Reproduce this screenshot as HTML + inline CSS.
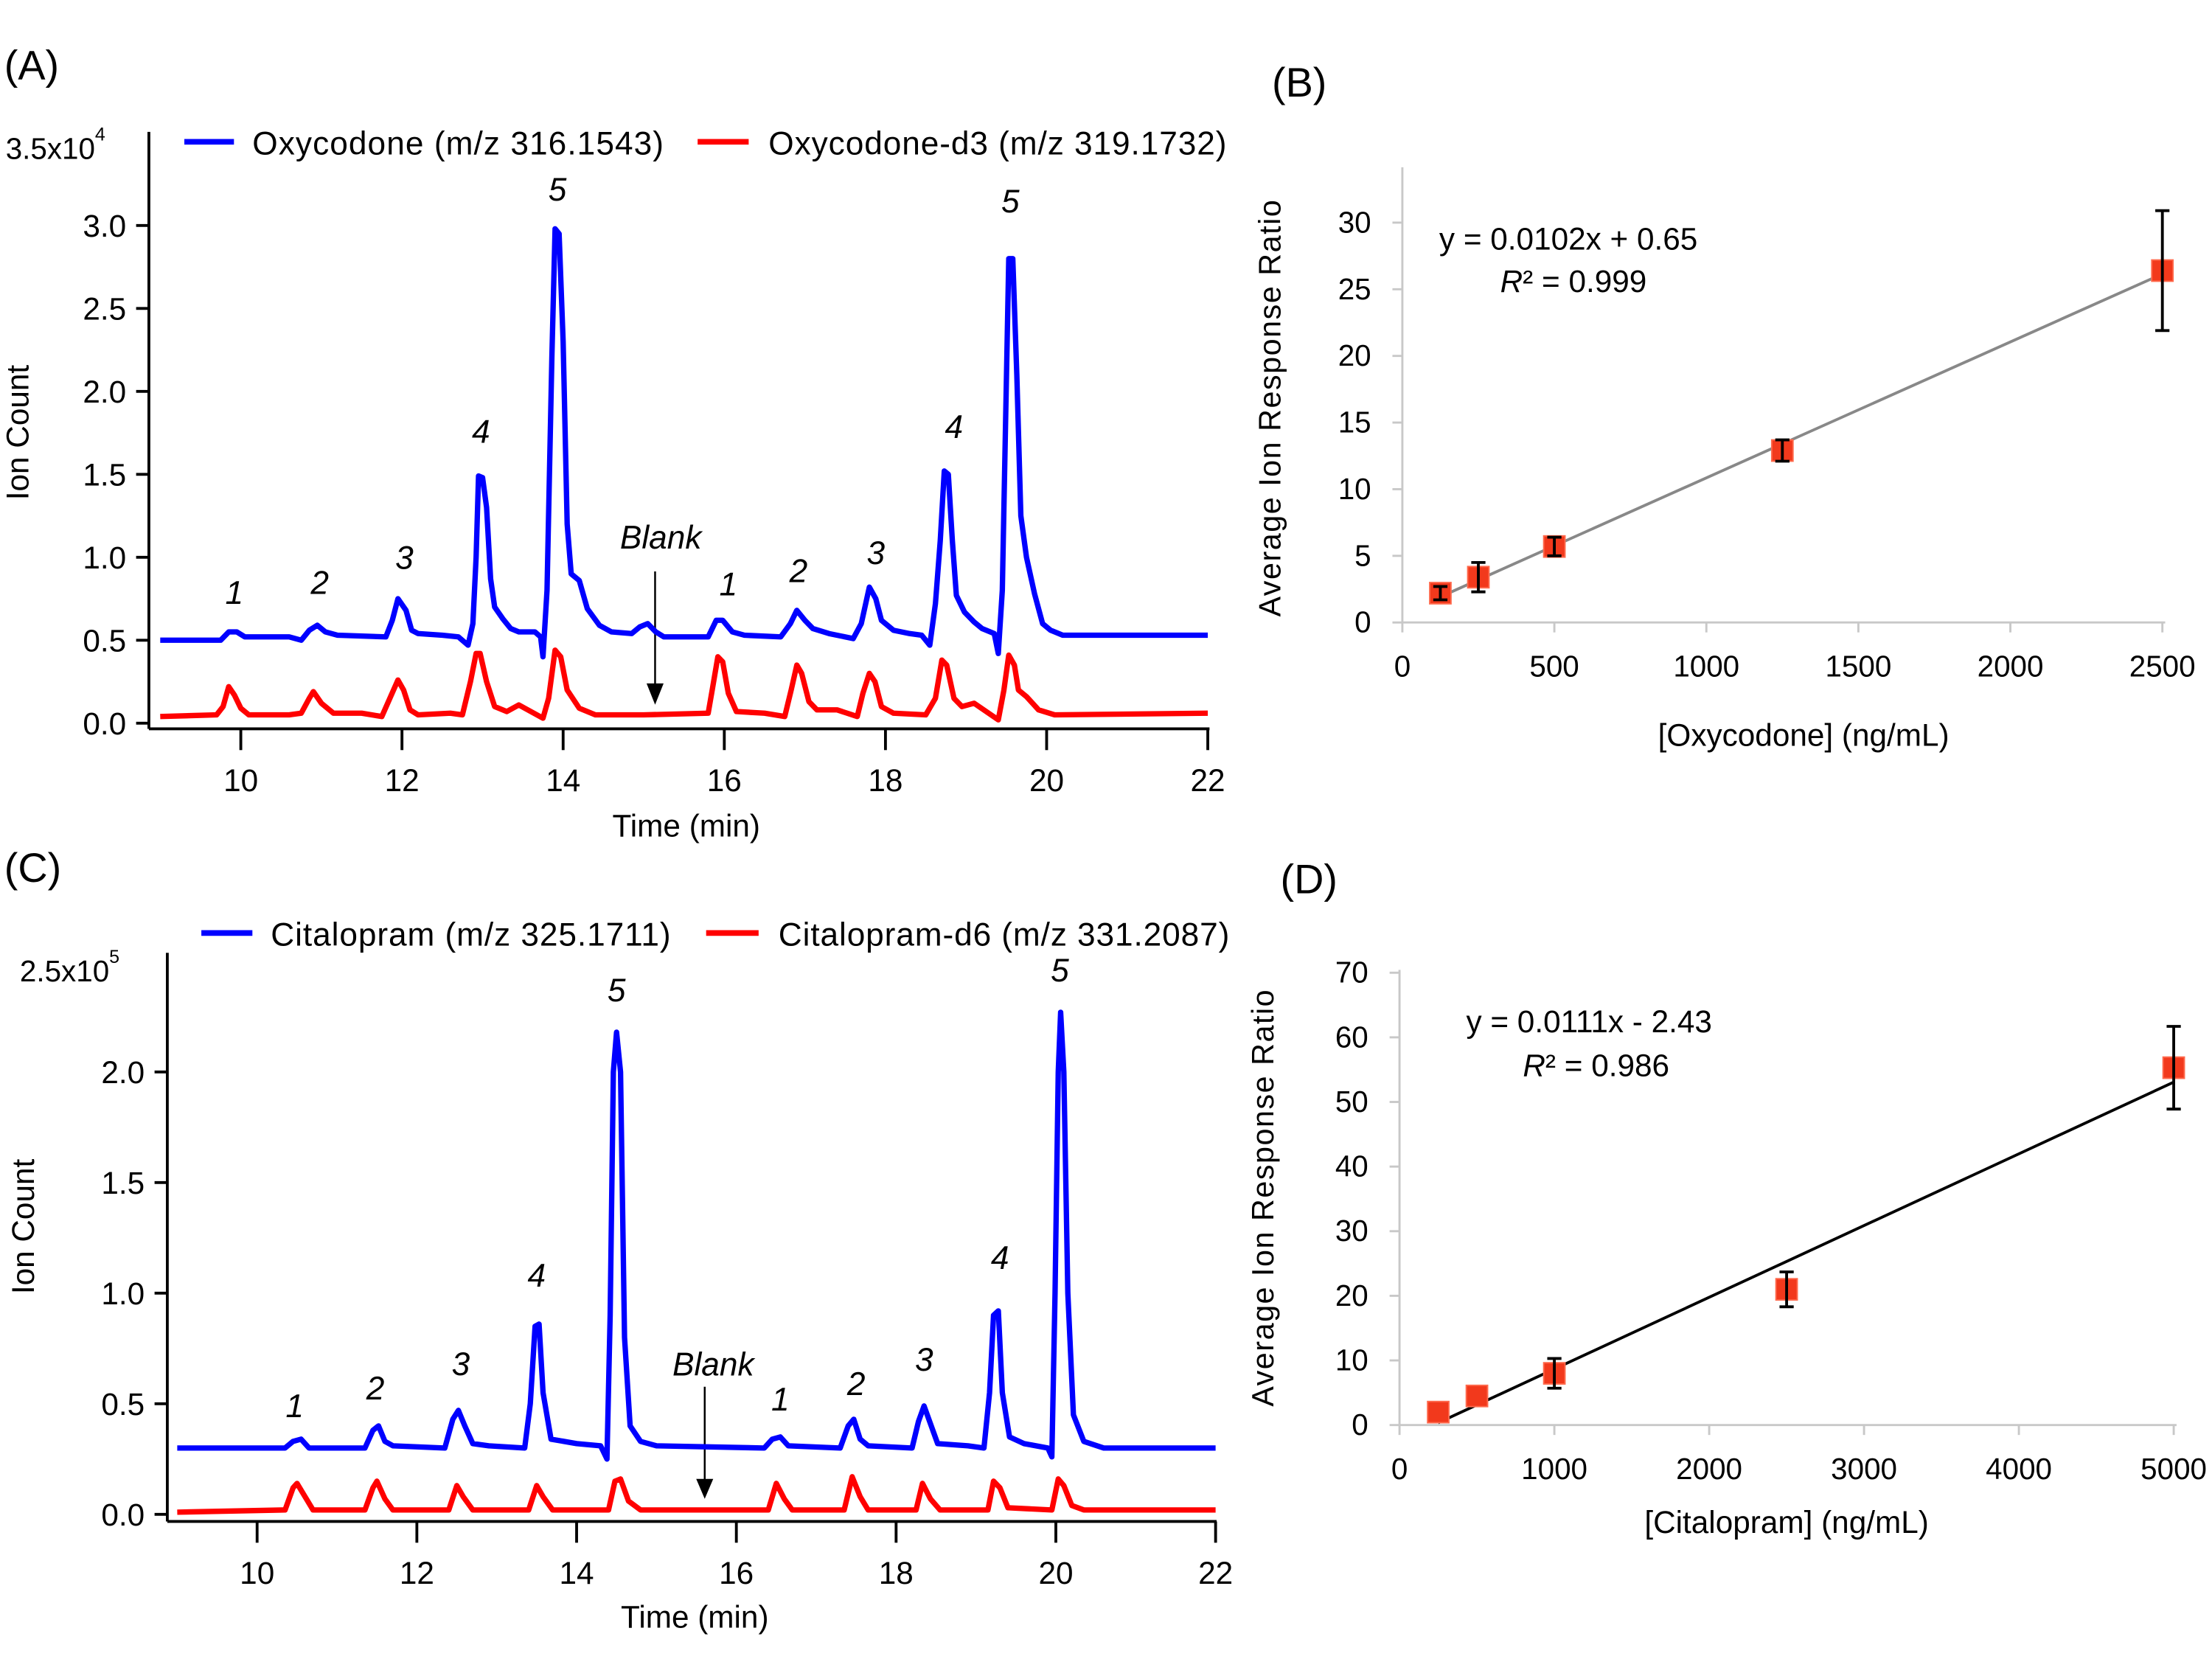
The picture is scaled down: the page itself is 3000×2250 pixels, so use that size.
<!DOCTYPE html>
<html><head><meta charset="utf-8"><style>
html,body{margin:0;padding:0;background:#fff;}
svg{display:block;font-family:"Liberation Sans",sans-serif;}
</style></head><body>
<svg id="fig" width="3000" height="2250" viewBox="0 0 1560 1170" xmlns="http://www.w3.org/2000/svg">
<rect width="1560" height="1170" fill="#fff"/>
<text x="3" y="56" font-size="29">(A)</text>
<text x="897" y="68" font-size="29">(B)</text>
<text x="3" y="622" font-size="29">(C)</text>
<text x="903" y="630" font-size="29">(D)</text>

<g id="pa">
<line x1="105" y1="93" x2="105" y2="514" stroke="#000" stroke-width="2"/>
<line x1="105" y1="514" x2="853" y2="514" stroke="#000" stroke-width="2"/>
<text x="4" y="112" font-size="21">3.5x10<tspan font-size="13" dy="-13">4</tspan></text>
<text transform="translate(20,305) rotate(-90)" text-anchor="middle" font-size="22">Ion Count</text>
<text x="484" y="590" text-anchor="middle" font-size="22">Time (min)</text>
<line x1="130" y1="100" x2="165" y2="100" stroke="#0000ff" stroke-width="4"/>
<text x="178" y="109" font-size="23" textLength="290">Oxycodone (m/z 316.1543)</text>
<line x1="492" y1="100" x2="528" y2="100" stroke="#ff0000" stroke-width="4"/>
<text x="542" y="109" font-size="23" textLength="323">Oxycodone-d3 (m/z 319.1732)</text>
<text x="466" y="387" text-anchor="middle" font-size="23" font-style="italic">Blank</text>
<line x1="462" y1="403" x2="462" y2="484" stroke="#000" stroke-width="1.3"/>
<polygon points="456,482 468,482 462,497" fill="#000"/>
</g>

<g id="pc">
<line x1="118" y1="672" x2="118" y2="1073" stroke="#000" stroke-width="2"/>
<line x1="118" y1="1073" x2="858" y2="1073" stroke="#000" stroke-width="2"/>
<text x="14" y="692" font-size="21">2.5x10<tspan font-size="13" dy="-13">5</tspan></text>
<text transform="translate(24,865) rotate(-90)" text-anchor="middle" font-size="22">Ion Count</text>
<text x="490" y="1148" text-anchor="middle" font-size="22">Time (min)</text>
<line x1="142" y1="658" x2="178" y2="658" stroke="#0000ff" stroke-width="4"/>
<text x="191" y="667" font-size="23" textLength="282">Citalopram (m/z 325.1711)</text>
<line x1="498" y1="658" x2="535" y2="658" stroke="#ff0000" stroke-width="4"/>
<text x="549" y="667" font-size="23" textLength="318">Citalopram-d6 (m/z 331.2087)</text>
<text x="503" y="970" text-anchor="middle" font-size="23" font-style="italic">Blank</text>
<line x1="497" y1="978" x2="497" y2="1045" stroke="#000" stroke-width="1.3"/>
<polygon points="491,1043 503,1043 497,1057" fill="#000"/>
</g>

<g id="pb">
<line x1="989" y1="118" x2="989" y2="439" stroke="#c8c8c8" stroke-width="1.5"/>
<line x1="989" y1="439" x2="1527" y2="439" stroke="#c8c8c8" stroke-width="1.5"/>
<text transform="translate(903,288) rotate(-90)" text-anchor="middle" font-size="21.5" textLength="294">Average Ion Response Ratio</text>
<text x="1272" y="526" text-anchor="middle" font-size="22">[Oxycodone] (ng/mL)</text>
<text x="1015" y="176" font-size="22">y = 0.0102x + 0.65</text>
<text x="1058" y="206" font-size="22"><tspan font-style="italic">R</tspan>² = 0.999</text>
</g>

<g id="pd">
<line x1="987" y1="684" x2="987" y2="1005" stroke="#c8c8c8" stroke-width="1.5"/>
<line x1="987" y1="1005" x2="1535" y2="1005" stroke="#c8c8c8" stroke-width="1.5"/>
<text transform="translate(898,845) rotate(-90)" text-anchor="middle" font-size="21.5" textLength="294">Average Ion Response Ratio</text>
<text x="1260" y="1081" text-anchor="middle" font-size="22">[Citalopram] (ng/mL)</text>
<text x="1034" y="728" font-size="22">y = 0.0111x - 2.43</text>
<text x="1074" y="759" font-size="22"><tspan font-style="italic">R</tspan>² = 0.986</text>
</g>
</svg>
<script>
// ---------- Panel A data ----------
const aBlueT = [9.0,9.75,9.85,9.95,10.05,10.6,10.75,10.85,10.95,11.05,11.2,11.8,11.88,11.95,12.05,12.12,12.2,12.5,12.7,12.82,12.88,12.92,12.95,13.0,13.05,13.1,13.15,13.25,13.35,13.45,13.65,13.72,13.75,13.8,13.86,13.9,13.95,14.0,14.05,14.1,14.2,14.3,14.45,14.6,14.85,14.95,15.05,15.15,15.25,15.8,15.9,15.98,16.1,16.25,16.7,16.82,16.9,17.0,17.1,17.3,17.6,17.7,17.8,17.88,17.95,18.1,18.3,18.45,18.55,18.62,18.68,18.73,18.78,18.83,18.88,18.98,19.1,19.2,19.35,19.4,19.45,19.5,19.53,19.58,19.63,19.68,19.75,19.85,19.95,20.05,20.2,22.0];
const aBlueV = [0.50,0.50,0.55,0.55,0.52,0.52,0.50,0.56,0.59,0.55,0.53,0.52,0.62,0.75,0.68,0.56,0.54,0.53,0.52,0.47,0.60,1.00,1.49,1.48,1.30,0.87,0.70,0.63,0.57,0.55,0.55,0.52,0.40,0.80,2.20,2.98,2.95,2.30,1.20,0.90,0.86,0.69,0.59,0.55,0.54,0.58,0.60,0.55,0.52,0.52,0.62,0.62,0.55,0.53,0.52,0.60,0.68,0.62,0.57,0.54,0.51,0.60,0.82,0.75,0.62,0.56,0.54,0.53,0.47,0.72,1.10,1.52,1.50,1.10,0.77,0.67,0.61,0.57,0.54,0.42,0.80,2.05,2.80,2.80,2.10,1.25,1.00,0.78,0.60,0.56,0.53,0.53];
const aRedT = [9.0,9.7,9.78,9.85,9.92,10.0,10.1,10.6,10.75,10.85,10.9,11.0,11.15,11.5,11.75,11.85,11.95,12.02,12.1,12.2,12.6,12.75,12.85,12.92,12.97,13.05,13.15,13.3,13.45,13.6,13.75,13.82,13.9,13.97,14.05,14.2,14.4,15.0,15.8,15.85,15.92,15.98,16.05,16.15,16.5,16.75,16.83,16.9,16.96,17.05,17.15,17.4,17.65,17.72,17.8,17.87,17.95,18.1,18.5,18.62,18.7,18.76,18.85,18.95,19.1,19.25,19.4,19.47,19.53,19.6,19.65,19.75,19.9,20.1,22.0];
const aRedV = [0.04,0.05,0.10,0.22,0.17,0.09,0.05,0.05,0.06,0.15,0.19,0.12,0.06,0.06,0.04,0.15,0.26,0.20,0.08,0.05,0.06,0.05,0.25,0.42,0.42,0.25,0.10,0.07,0.11,0.07,0.03,0.15,0.44,0.40,0.20,0.09,0.05,0.05,0.06,0.20,0.40,0.37,0.18,0.07,0.06,0.04,0.20,0.35,0.30,0.13,0.08,0.08,0.04,0.18,0.30,0.25,0.10,0.06,0.05,0.15,0.38,0.35,0.15,0.10,0.12,0.07,0.02,0.20,0.41,0.35,0.20,0.16,0.08,0.05,0.06];
const aPeakLabels = ["1","2","3","4","5","1","2","3","4","5"];
const aPeakLabelT = [9.92,10.98,12.03,12.98,13.93,16.05,16.92,17.88,18.85,19.55];
const aPeakLabelV = [0.72,0.78,0.93,1.69,3.15,0.77,0.85,0.96,1.72,3.08];
const aXTicks = [10,12,14,16,18,20,22];
const aYTicks = [0.0,0.5,1.0,1.5,2.0,2.5,3.0];
const aYTickLabels = ["0.0","0.5","1.0","1.5","2.0","2.5","3.0"];

// ---------- Panel C data ----------
const cBlueT = [9.0,10.35,10.45,10.55,10.65,11.35,11.45,11.52,11.6,11.7,12.35,12.45,12.52,12.6,12.7,12.9,13.35,13.42,13.48,13.53,13.58,13.68,14.0,14.3,14.38,14.42,14.46,14.5,14.55,14.6,14.67,14.8,15.0,16.35,16.45,16.55,16.65,17.3,17.4,17.47,17.55,17.65,18.2,18.28,18.35,18.42,18.52,18.9,19.1,19.17,19.22,19.28,19.33,19.42,19.6,19.9,19.95,19.99,20.03,20.06,20.1,20.15,20.22,20.35,20.6,22.0];
const cBlueV = [0.30,0.30,0.33,0.34,0.30,0.30,0.38,0.40,0.33,0.31,0.30,0.43,0.47,0.40,0.32,0.31,0.30,0.50,0.85,0.86,0.55,0.34,0.32,0.31,0.25,0.90,2.00,2.18,2.00,0.80,0.40,0.33,0.31,0.30,0.34,0.35,0.31,0.30,0.40,0.43,0.34,0.31,0.30,0.42,0.49,0.42,0.32,0.31,0.30,0.55,0.90,0.92,0.55,0.35,0.32,0.30,0.26,1.00,2.00,2.27,2.00,1.00,0.45,0.33,0.30,0.30];
const cRedT = [9.0,10.35,10.45,10.5,10.6,10.7,11.35,11.45,11.5,11.6,11.7,12.4,12.5,12.58,12.7,13.4,13.5,13.58,13.7,14.4,14.48,14.55,14.65,14.8,16.4,16.5,16.6,16.7,17.35,17.45,17.55,17.65,18.25,18.33,18.43,18.55,19.15,19.22,19.3,19.4,19.95,20.03,20.1,20.2,20.35,22.0];
const cRedV = [0.01,0.02,0.12,0.14,0.08,0.02,0.02,0.12,0.15,0.07,0.02,0.02,0.13,0.08,0.02,0.02,0.13,0.08,0.02,0.02,0.15,0.16,0.06,0.02,0.02,0.14,0.07,0.02,0.02,0.17,0.08,0.02,0.02,0.14,0.07,0.02,0.02,0.15,0.12,0.03,0.02,0.16,0.13,0.04,0.02,0.02];
const cPeakLabels = ["1","2","3","4","5","1","2","3","4","5"];
const cPeakLabelT = [10.47,11.48,12.55,13.5,14.5,16.55,17.5,18.35,19.3,20.05];
const cPeakLabelV = [0.44,0.52,0.63,1.03,2.32,0.47,0.54,0.65,1.11,2.41];
const cXTicks = [10,12,14,16,18,20,22];
const cYTicks = [0.0,0.5,1.0,1.5,2.0];
const cYTickLabels = ["0.0","0.5","1.0","1.5","2.0"];

// ---------- Panel B data ----------
const bConc = [125,250,500,1250,2500];
const bRatio = [2.2,3.4,5.7,12.9,26.4];
const bErr = [0.5,1.1,0.7,0.8,4.5];
const bSlope = 0.0102, bIntercept = 0.65;
const bXTicks = [0,500,1000,1500,2000,2500];
const bYTicks = [0,5,10,15,20,25,30];

// ---------- Panel D data ----------
const dConc = [250,500,1000,2500,5000];
const dRatio = [2.0,4.5,8.0,21.0,55.3];
const dErr = [0,0,2.3,2.7,6.4];
const dSlope = 0.0111, dIntercept = -2.43;
const dXTicks = [0,1000,2000,3000,4000,5000];
const dYTicks = [0,10,20,30,40,50,60,70];

const NS = "http://www.w3.org/2000/svg";
function mk(parent, tag, attrs){const e=document.createElementNS(NS,tag);for(const k in attrs)e.setAttribute(k,attrs[k]);parent.appendChild(e);return e;}

function chrom(g, xs, ys, blueT, blueV, redT, redV, labs, labT, labV, xt, yt, ytl, axisY, axisX, prefix){
  for(const t of xt){
    const l=mk(g,'line',{x1:xs(t),x2:xs(t),y1:axisY,y2:axisY+15,stroke:'#000','stroke-width':2});
    
    
    const tx=mk(g,'text',{x:xs(t),y:axisY+44,'text-anchor':'middle','font-size':22});
    tx.textContent=t;
    
    
  }
  yt.forEach((v,i)=>{
    const l=mk(g,'line',{x1:axisX-9,x2:axisX,y1:ys(v),y2:ys(v),stroke:'#000','stroke-width':2});
    
    
    const tx=mk(g,'text',{x:axisX-16,y:ys(v)+8,'text-anchor':'end','font-size':22});
    tx.textContent=ytl[i];
    
    
  });
  const red=mk(g,'polyline',{points:redT.map((t,i)=>xs(t)+','+ys(redV[i])).join(' '),fill:'none',stroke:'#ff0000','stroke-width':3.8,'stroke-linejoin':'round'});
  
  
  const blue=mk(g,'polyline',{points:blueT.map((t,i)=>xs(t)+','+ys(blueV[i])).join(' '),fill:'none',stroke:'#0000ff','stroke-width':3.8,'stroke-linejoin':'round'});
  
  
  labs.forEach((s,i)=>{
    const tx=mk(g,'text',{x:xs(labT[i]),y:ys(labV[i]),'text-anchor':'middle','font-size':23,'font-style':'italic'});
    tx.textContent=s;
    
    
  });
}
const axA = t=>113+(t-9)*56.83, ayA = v=>510-v*117;
chrom(document.getElementById('pa'),axA,ayA,aBlueT,aBlueV,aRedT,aRedV,aPeakLabels,aPeakLabelT,aPeakLabelV,aXTicks,aYTicks,aYTickLabels,514,105,'a');
const axC = t=>125+(t-9)*56.33, ayC = v=>1068-v*156;
chrom(document.getElementById('pc'),axC,ayC,cBlueT,cBlueV,cRedT,cRedV,cPeakLabels,cPeakLabelT,cPeakLabelV,cXTicks,cYTicks,cYTickLabels,1073,118,'c');

function calib(g, xs, ys, conc, ratio, err, slope, icpt, xt, yt, axisY, axisX, lineColor, prefix){
  for(const t of xt){
    const l=mk(g,'line',{x1:xs(t),x2:xs(t),y1:axisY,y2:axisY+7,stroke:'#c8c8c8','stroke-width':1.5});
    
    
    const tx=mk(g,'text',{x:xs(t),y:axisY+38,'text-anchor':'middle','font-size':21});
    tx.textContent=t;
    
    
  }
  for(const v of yt){
    const l=mk(g,'line',{x1:axisX-7,x2:axisX,y1:ys(v),y2:ys(v),stroke:'#c8c8c8','stroke-width':1.5});
    
    
    const tx=mk(g,'text',{x:axisX-22,y:ys(v)+7,'text-anchor':'end','font-size':21});
    tx.textContent=v;
    
    
  }
  const x0=conc[0], x1=conc[conc.length-1];
  const fit=mk(g,'line',{x1:xs(x0),y1:ys(slope*x0+icpt),x2:xs(x1),y2:ys(slope*x1+icpt),stroke:lineColor,'stroke-width':2});
  
  
  conc.forEach((c,i)=>{
    const cx=xs(c), cy=ys(ratio[i]);
    const m=mk(g,'rect',{x:cx-7.5,y:cy-7.5,width:15,height:15,fill:'#f2391c',stroke:'#ff6a4d','stroke-width':1});
    
    
    if(err[i]>0){
      const t=ys(ratio[i]+err[i]), b=ys(ratio[i]-err[i]);
      const e=mk(g,'path',{d:`M${cx},${t}V${b}M${cx-5},${t}H${cx+5}M${cx-5},${b}H${cx+5}`,stroke:'#000','stroke-width':2,fill:'none'});
      
      
    }
  });
}
calib(document.getElementById('pb'),c=>989+c*0.2144,v=>439-v*9.4,bConc,bRatio,bErr,bSlope,bIntercept,bXTicks,bYTicks,439,989,'#888','b');
calib(document.getElementById('pd'),c=>987+c*0.1092,v=>1005-v*4.557,dConc,dRatio,dErr,dSlope,dIntercept,dXTicks,dYTicks,1005,987,'#000','d');
</script>
</body></html>
